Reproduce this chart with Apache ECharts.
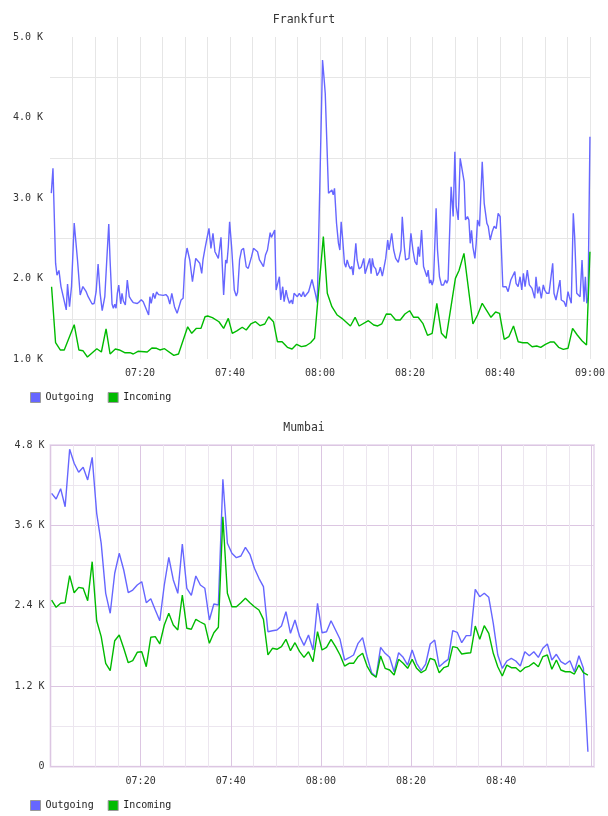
<!DOCTYPE html>
<html><head><meta charset="utf-8">
<script src="https://cdn.jsdelivr.net/npm/echarts@6/dist/echarts.min.js"></script>
<style>html,body{margin:0;padding:0;background:#fff}#c{width:608px;height:816px}</style>
</head><body><div id="c"></div><script>
// ---- data (minutes after 07:00, values in bits/bytes) ----
const frankOutT = [0.29,0.66,1.24,1.55,1.99,2.44,2.88,3.61,3.9,4.34,4.78,5.38,5.67,6.11,6.71,7.31,7.59,8.04,8.48,8.92,9.36,9.81,10.25,10.69,11.14,11.6,12.18,12.62,13.06,13.35,13.79,14.08,14.39,14.68,14.97,15.28,15.72,16.0,16.3,16.74,17.18,17.62,18.07,18.51,18.95,19.39,19.84,20.28,20.72,21.16,21.92,22.2,22.49,22.94,23.31,23.69,24.13,24.57,25.15,25.75,26.19,26.63,27.07,27.67,28.25,28.69,29.13,29.58,30.02,30.46,30.77,31.06,31.66,31.95,32.39,32.83,33.28,33.72,34.0,34.45,34.89,35.33,35.77,36.22,36.66,36.97,37.41,37.7,38.0,38.3,38.59,39.04,39.32,39.63,39.92,40.36,40.96,41.4,41.69,42.13,42.57,43.02,43.61,44.06,44.34,44.79,45.23,45.67,46.12,46.56,47.0,47.44,47.89,48.33,48.62,48.93,49.21,49.5,49.94,50.25,50.54,50.98,51.27,51.72,52.03,52.47,52.76,53.21,53.64,53.93,54.24,54.68,54.97,55.41,55.86,56.3,56.59,57.03,57.47,58.23,58.51,58.96,59.4,60.57,60.88,61.17,61.9,62.21,62.65,62.94,63.23,63.68,64.11,64.42,64.71,65.0,65.44,65.75,66.04,66.48,66.77,67.08,67.37,67.66,67.97,68.26,68.7,69.15,69.43,69.74,70.03,70.47,70.76,71.06,71.36,71.64,71.95,72.39,72.68,73.12,73.41,73.86,74.17,74.61,75.05,75.34,75.94,76.38,76.82,77.4,77.71,78.0,78.29,78.74,79.04,79.48,79.77,80.21,80.66,81.1,81.54,81.82,82.13,82.58,83.02,83.31,83.76,84.04,84.35,84.64,84.93,85.24,85.53,85.81,86.12,86.56,87.0,87.45,87.89,88.18,88.47,89.15,89.6,89.98,90.27,90.72,91.16,91.45,91.76,92.05,92.34,92.79,93.1,93.39,93.68,93.99,94.43,94.72,95.02,95.46,96.06,96.5,97.1,97.39,97.83,98.27,98.72,99.16,99.6,100.04,100.64,101.08,101.37,101.81,102.41,102.85,103.3,103.58,104.03,104.47,104.85,105.21,105.58,106.08,106.53,106.83,107.12,107.72,108.01,108.39,108.74,109.19,109.63,109.94,110.4,110.9,111.28,111.72,112.01,112.45,112.74,113.34,113.63,114.23,114.68,115.12,115.41,115.85,116.3,116.6,117.06,117.5,117.8,118.24,118.68,118.98,119.29,119.58,120];
const frankOutV = [3060,3370,2190,2040,2100,1900,1890,1610,1930,1650,1900,2690,2705,2230,1795,1900,1905,1836,1774,1790,1683,1690,1836,2180,1816,1600,1774,2230,2677,2230,1683,1630,1680,1630,1816,1919,1683,1816,1720,1670,1981,1774,1733,1700,1720,1690,1710,1736,1710,1690,1546,1774,1690,1816,1750,1832,1800,1810,1790,1800,1774,1683,1816,1650,1567,1587,1733,1754,2230,2379,2395,2230,1960,1980,2250,2230,2190,2064,2230,2375,2500,2623,2375,2561,2333,2354,2250,2375,2511,2530,1795,2230,2190,2395,2705,2395,1857,1782,1830,2230,2354,2375,2146,2126,2105,2271,2375,2354,2333,2230,2190,2146,2292,2354,2457,2569,2511,2520,2602,1857,1880,2022,1733,1898,1713,1857,1774,1692,1733,1683,1816,1836,1774,1816,1774,1836,1774,1795,1836,1988,1919,1816,1700,4714,4506,4300,3058,3080,3099,3040,3120,2686,2437,2354,2705,2520,2189,2140,2230,2150,2120,2150,2043,2060,2437,2230,2120,2140,2190,2250,2060,2140,2150,2250,2060,2250,2150,2120,2035,2080,2140,2030,2120,2250,2478,2354,2561,2354,2250,2200,2210,2354,2767,2395,2230,2210,2250,2561,2354,2210,2170,2395,2271,2602,2150,2130,2022,2105,1940,1981,1919,1981,1960,2872,2354,2022,1919,1920,1981,1940,1981,3140,2770,3575,2900,2727,3493,3400,3400,3200,2727,2770,2727,2437,2600,2390,2250,2437,2727,2650,3450,2934,2685,2650,2478,2580,2650,2620,2810,2770,1898,1920,1898,1836,1981,2000,2085,1940,1898,2022,1857,2063,1898,2105,1920,1920,1878,1754,2022,1816,1898,1754,1920,1857,1816,1816,1816,2189,1816,1733,1754,1981,1733,1713,1650,1836,1774,1692,2810,2520,1816,1795,1774,2230,1713,2022,1692,1760,3760];

const frankInT = [0.35,1.24,2.28,3.17,5.38,6.42,7.31,8.32,10.41,11.42,12.46,13.35,14.52,15.41,16.6,17.78,18.51,19.55,21.61,22.65,23.69,24.42,25.46,27.52,28.56,30.6,31.5,32.54,33.56,34.45,35.05,36.09,37.55,38.59,39.63,40.51,41.53,42.73,43.61,44.63,45.67,46.71,47.73,48.62,49.66,50.54,51.58,52.76,53.8,54.82,55.86,56.9,57.92,58.8,60.75,61.63,62.65,63.83,64.87,66.77,67.81,68.7,70.76,71.95,72.84,73.72,74.74,75.78,76.82,77.84,78.88,79.92,80.81,81.82,82.86,83.9,84.93,85.97,87.0,88.02,90.1,90.9,92.0,93.99,95.02,96.06,98.0,99.03,99.91,100.95,101.97,103.01,104.05,105.07,106.11,107.15,108.17,109.06,110.1,111.14,112.02,113.04,114.08,115.12,116.14,117.18,118.22,119.24,120];
const frankInV = [1898,1202,1112,1112,1426,1112,1103,1025,1128,1087,1373,1062,1124,1112,1078,1078,1062,1096,1087,1137,1133,1112,1128,1045,1062,1400,1319,1381,1381,1525,1534,1515,1463,1381,1505,1319,1350,1394,1360,1435,1463,1414,1435,1525,1463,1215,1215,1145,1124,1182,1153,1165,1202,1257,2520,1816,1650,1546,1505,1410,1518,1410,1476,1422,1410,1435,1559,1555,1484,1484,1559,1600,1518,1518,1443,1294,1319,1692,1319,1257,2002,2100,2312,1435,1546,1692,1518,1584,1567,1245,1277,1410,1215,1202,1202,1153,1161,1145,1182,1211,1211,1145,1120,1133,1381,1298,1227,1174,2333];

// Mumbai: one sample per minute starting 07:00:15
const mumbaiStart = 0.25;
const mumbaiOut = [4079,3994,4148,3879,4736,4527,4393,4467,4278,4616,3781,3333,2587,2289,2886,3184,2935,2596,2636,2711,2760,2447,2507,2338,2178,2711,3124,2786,2587,3323,2662,2557,2845,2711,2662,2189,2428,2413,4288,3333,3184,3119,3144,3273,3169,2960,2811,2686,2014,2029,2040,2099,2313,1990,2189,1950,1810,1965,1741,2438,1999,2014,2178,2040,1901,1592,1626,1667,1841,1925,1641,1403,1343,1781,1692,1632,1417,1701,1632,1517,1741,1543,1432,1532,1831,1890,1492,1552,1602,2029,2005,1850,1955,1955,2647,2536,2587,2527,2139,1667,1468,1577,1617,1577,1502,1716,1656,1716,1632,1767,1831,1592,1677,1567,1528,1582,1417,1656,1468,224];
const mumbaiIn = [2487,2378,2438,2447,2850,2596,2676,2662,2477,3059,2178,1940,1543,1432,1880,1965,1767,1552,1582,1707,1716,1492,1931,1940,1831,2114,2289,2114,2040,2562,2065,2050,2199,2159,2124,1841,1999,2080,3730,2587,2387,2387,2447,2513,2447,2387,2338,2199,1667,1767,1752,1791,1901,1731,1850,1720,1632,1716,1567,2014,1741,1781,1901,1791,1667,1502,1543,1543,1641,1692,1502,1383,1334,1652,1468,1443,1368,1602,1543,1468,1602,1468,1403,1443,1617,1592,1403,1477,1502,1791,1776,1682,1692,1701,2099,1901,2104,1990,1692,1492,1353,1517,1477,1477,1417,1477,1502,1552,1492,1641,1667,1453,1592,1443,1417,1417,1383,1517,1403,1368];

const seriesNames = ['Outgoing', 'Incoming'];
const titles = ['Frankfurt', 'Mumbai'];

// ---- styling ----
const FONT = 'DejaVu Sans Mono';
const BLUE = '#6666ff', GREEN = '#00bb00';
const MAJ = '#dcc6e2', MIN = '#ece6ef';
function hhmm(m) {
  const h = 7 + Math.floor(m / 60), mm = Math.round(m % 60);
  return String(h).padStart(2, '0') + ':' + String(mm).padStart(2, '0');
}
const pairs = (t, v) => t.map((x, i) => [x, v[i]]);
const mumbaiT = mumbaiOut.map((_, i) => mumbaiStart + i);

const labelStyle = { fontFamily: FONT, fontSize: 10, color: '#333' };
const lineSeries = (name, data, color, idx) => ({
  name, type: 'line', xAxisIndex: idx, yAxisIndex: idx, data,
  showSymbol: false, symbol: 'none', lineStyle: { width: 1.4, color }, itemStyle: { color },
  animation: false, silent: true
});
const legendCfg = top => ({
  left: 25, top, itemWidth: 10, itemHeight: 10, itemGap: 14, icon: 'rect',
  data: seriesNames, selectedMode: false,
  itemStyle: { borderColor: '#999', borderWidth: 1 },
  textStyle: { fontFamily: FONT, fontSize: 10, color: '#222' }
});

const chart = echarts.init(document.getElementById('c'), null, { renderer: 'canvas' });
chart.setOption({
  animation: false,
  backgroundColor: '#fff',
  color: [BLUE, GREEN],
  title: [
    { text: titles[0], left: 'center', top: 14, padding: 0, textStyle: { fontFamily: FONT, fontSize: 11.5, fontWeight: 'normal', color: '#333' } },
    { text: titles[1], left: 'center', top: 422, padding: 0, textStyle: { fontFamily: FONT, fontSize: 11.5, fontWeight: 'normal', color: '#333' } }
  ],
  legend: [legendCfg(387), legendCfg(795)],
  grid: [
    { left: 50, top: 37, width: 542, height: 322, show: false },
    { left: 50.5, top: 445, width: 543.5, height: 321.7, show: true, borderColor: '#ebdff0', borderWidth: 2, backgroundColor: 'rgba(0,0,0,0)' }
  ],
  xAxis: [
    { gridIndex: 0, type: 'value', min: 0, max: 120, interval: 5,
      axisLine: { show: false }, axisTick: { show: false },
      axisLabel: Object.assign({ margin: 9, formatter: v => (v > 0 && v % 20 === 0) ? hhmm(v) : '' }, labelStyle),
      splitLine: { show: true, showMinLine: false, lineStyle: { color: '#e6e6e6', width: 1 } } },
    { gridIndex: 1, type: 'value', min: 0, max: 120.6, interval: 5,
      axisLine: { show: false }, axisTick: { show: false },
      axisLabel: Object.assign({ margin: 10, showMaxLabel: false, formatter: v => (v > 0 && v < 120 && v % 20 === 0) ? hhmm(v) : '' }, labelStyle),
      splitLine: { show: true, showMinLine: true, showMaxLine: false, lineStyle: { color: [MAJ, MIN, MIN, MIN], width: 1 } } }
  ],
  yAxis: [
    { gridIndex: 0, type: 'value', min: 1000, max: 5000, interval: 500,
      axisLine: { show: false }, axisTick: { show: false },
      axisLabel: Object.assign({ margin: 7, formatter: v => v % 1000 === 0 ? (v / 1000).toFixed(1) + ' K' : '' }, labelStyle),
      splitLine: { show: true, lineStyle: { color: ['rgba(0,0,0,0)', '#e6e6e6'], width: 1 } } },
    { gridIndex: 1, type: 'value', min: 0, max: 4800, interval: 600,
      axisLine: { show: false }, axisTick: { show: false },
      axisLabel: Object.assign({ margin: 6, formatter: v => v === 0 ? '0' : (v % 1200 === 0 ? (v / 1000).toFixed(1) + ' K' : '') }, labelStyle),
      splitLine: { show: true, lineStyle: { color: [MAJ, MIN], width: 1 } } }
  ],
  series: [
    lineSeries(seriesNames[0], pairs(frankOutT, frankOutV), BLUE, 0),
    lineSeries(seriesNames[1], pairs(frankInT, frankInV), GREEN, 0),
    lineSeries(seriesNames[0], pairs(mumbaiT, mumbaiOut), BLUE, 1),
    lineSeries(seriesNames[1], pairs(mumbaiT, mumbaiIn), GREEN, 1)
  ]
});
</script></body></html>
